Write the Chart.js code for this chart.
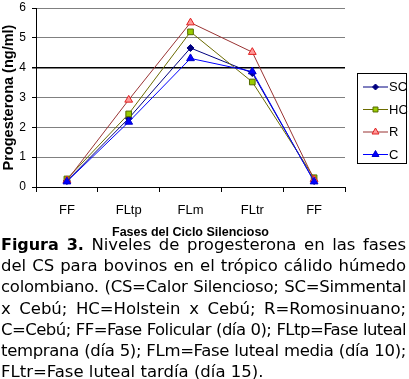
<!DOCTYPE html>
<html><head><meta charset="utf-8">
<script src="https://cdn.jsdelivr.net/npm/chart.js@4/dist/chart.umd.min.js"></script>
<style>
html,body{margin:0;padding:0;background:#fff;}
#wrap{position:relative;width:409px;height:240px;}
#cap{position:absolute;left:1px;top:234px;width:405px;font-family:"DejaVu Sans",Verdana,sans-serif;font-size:16.5px;line-height:21.2px;color:#000;}
#cap div{text-align:justify;text-align-last:justify;white-space:nowrap;}
#cap div.last{text-align-last:left;}
#cap b{font-weight:bold;font-size:16px;}
</style></head><body>
<div id="wrap"><canvas id="c" width="409" height="240"></canvas></div>
<div id="cap">
<div><b>Figura 3.</b> Niveles de progesterona en las fases</div>
<div>del CS para bovinos en el trópico cálido húmedo</div>
<div>colombiano. (CS=Calor Silencioso; SC=Simmental</div>
<div>x Cebú; HC=Holstein x Cebú; R=Romosinuano;</div>
<div>C=Cebú; FF=Fase Folicular (día 0); FLtp=Fase luteal</div>
<div>temprana (día 5); FLm=Fase luteal media (día 10);</div>
<div class="last">FLtr=Fase luteal tardía (día 15).</div>
</div>
<script>
// shrink letter-spacing of caption lines that would overflow
(function(){
  const lines=document.querySelectorAll('#cap div');
  lines.forEach(d=>{
    const s=document.createElement('span');
    s.innerHTML=d.innerHTML; s.style.whiteSpace='nowrap';
    d.innerHTML=''; d.appendChild(s);
    const w=s.getBoundingClientRect().width;
    const n=s.textContent.length;
    const target = 403;
    let ls='';
    if(w>target){ ls=((target-w)/n)+'px'; }
    d.innerHTML=s.innerHTML; d.style.letterSpacing=ls;
  });
})();

const categories = ["FF","FLtp","FLm","FLtr","FF"];
const seriesNames = ["SC","HC","R","C"];
const SC = [0.2, 2.3, 4.66, 3.82, 0.2];
const HC = [0.27, 2.45, 5.2, 3.52, 0.31];
const R  = [0.22, 2.92, 5.51, 4.52, 0.25];
const C  = [0.18, 2.18, 4.31, 3.87, 0.18];
const yTicks = [0,1,2,3,4,5,6];

const NARROW = '"Liberation Sans Narrow","Liberation Sans",Arial,sans-serif';

const styles = [
  {line:'#000080', fill:'#000080', border:'#000080', pt:'rectRot', r:3.5},
  {line:'#6b6b00', fill:'#99cc00', border:'#556b00', pt:'rect', r:4},
  {line:'#993333', fill:'#ff9999', border:'#e02020', pt:'triangle', r:4.5},
  {line:'#0000ff', fill:'#0000ff', border:'#0000cc', pt:'triangle', r:4.5}
];
const data = [SC,HC,R,C];
const datasets = seriesNames.map((n,i)=>({
  label:n, data:data[i], borderColor:styles[i].line, borderWidth:1,
  pointStyle:styles[i].pt, pointRadius:styles[i].r, pointBackgroundColor:styles[i].fill,
  pointBorderColor:styles[i].border, pointBorderWidth:1, tension:0, order:4-i
}));

const legendBox = {
  id:'legendBox',
  afterDraw(chart){
    const ctx = chart.ctx;
    ctx.save();
    const x0=357.5, y0=73.5, w=49, h=90;
    ctx.strokeStyle='#000'; ctx.lineWidth=1;
    ctx.strokeRect(x0,y0,w,h);
    ctx.font='13px '+NARROW;
    ctx.textBaseline='middle';
    chart.data.datasets.forEach((ds,i)=>{
      const y = 87 + i*22.5;
      ctx.strokeStyle=ds.borderColor; ctx.lineWidth=1;
      ctx.beginPath(); ctx.moveTo(363,y); ctx.lineTo(388,y); ctx.stroke();
      ctx.fillStyle=ds.pointBackgroundColor; ctx.strokeStyle=ds.pointBorderColor;
      Chart.helpers.drawPoint(ctx,{pointStyle:ds.pointStyle,radius:ds.pointRadius-0.5,borderWidth:1},375.5,y);
      ctx.fillStyle='#000';
      ctx.fillText(ds.label,389,y+0.5);
    });
    ctx.restore();
  }
};

new Chart(document.getElementById('c'),{
  type:'line',
  data:{labels:categories, datasets},
  options:{
    responsive:false, animation:false,
    layout:{padding:{top:8,right:64,left:0,bottom:0}},
    plugins:{legend:{display:false},tooltip:{enabled:false}},
    scales:{
      x:{
        offset:true,
        grid:{offset:true, drawOnChartArea:false, tickLength:5, color:'#000', tickColor:'#000'},
        border:{color:'#000'},
        ticks:{font:{family:NARROW,size:13},color:'#000',padding:11},
        title:{display:true,text:'Fases del Ciclo Silencioso',font:{family:NARROW,size:12.5,weight:'bold'},color:'#000',padding:{top:1,bottom:0}},
        afterFit(s){s.height=53;}
      },
      y:{
        min:0,max:6,
        afterBuildTicks(s){s.ticks=yTicks.map(v=>({value:v}));},
        grid:{color:(c)=>c.tick && c.tick.value===4?'#000':'#808080', lineWidth:(c)=>c.tick && c.tick.value===4?1.5:1, tickLength:4, tickColor:'#000'},
        border:{color:'#000'},
        ticks:{font:{family:NARROW,size:12},color:'#000',padding:6},
        title:{display:true,text:'Progesterona (ng/ml)',font:{family:'"Liberation Sans",Arial,sans-serif',size:14.5,weight:'bold'},color:'#000',padding:{top:0,bottom:0}},
        afterFit(s){s.width=36; s.paddingTop=0; s.paddingBottom=0;}
      }
    }
  },
  plugins:[legendBox]
});
</script>
</body></html>
